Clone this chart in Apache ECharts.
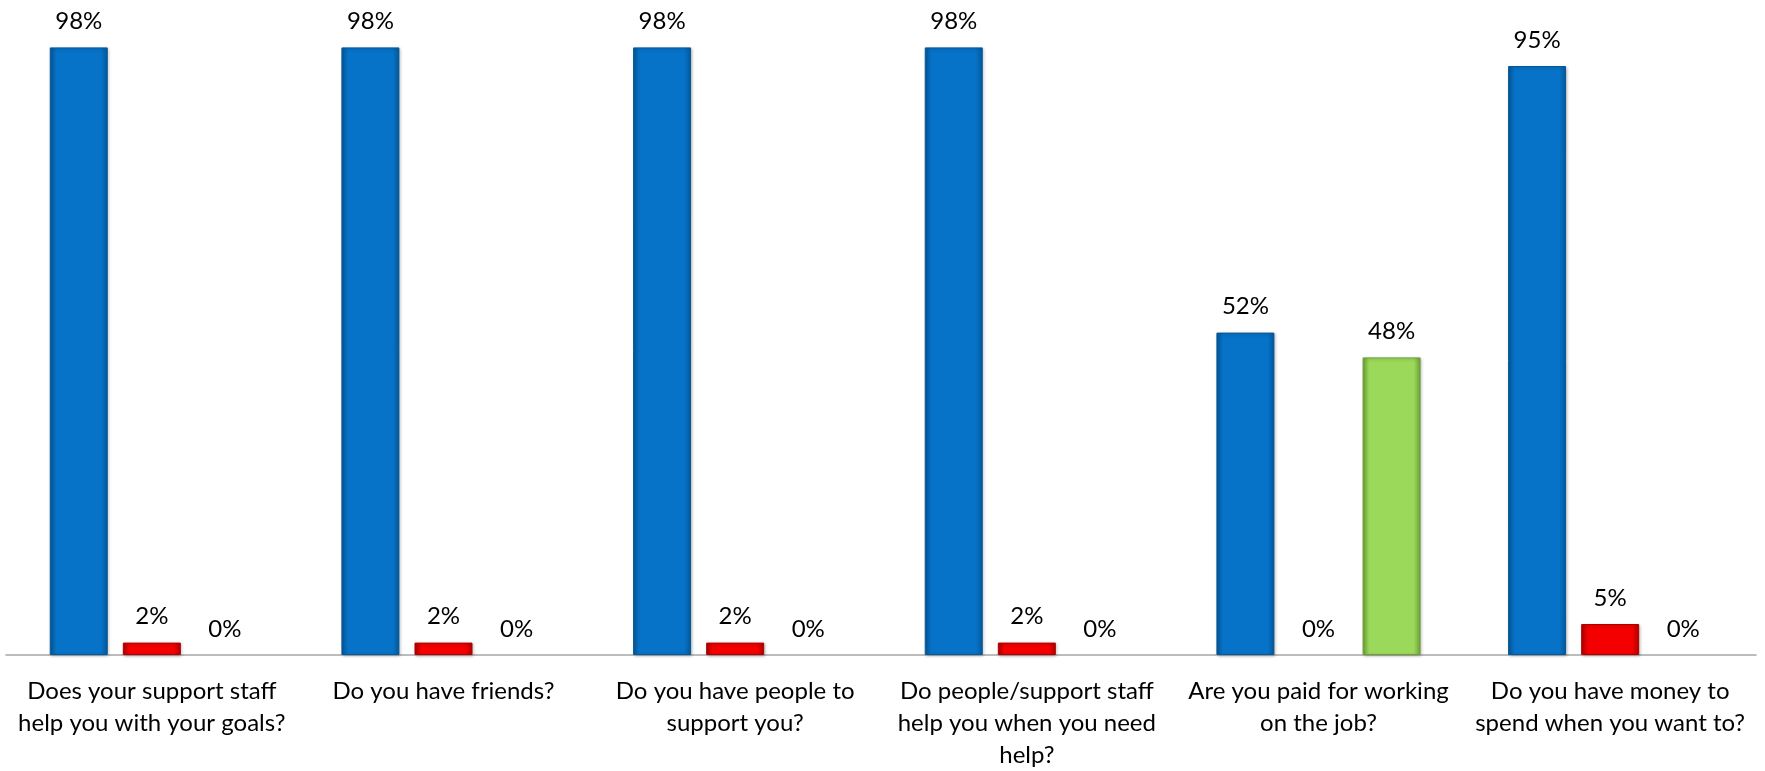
<!DOCTYPE html>
<html>
<head>
<meta charset="utf-8">
<script src="https://cdn.jsdelivr.net/npm/echarts@6/dist/echarts.min.js"></script>
<style>
html, body { margin: 0; padding: 0; background: #fff; }
#main { width: 1765px; height: 771px; }
</style>
</head>
<body>
<div id="main"></div>
<script>
// categories (questions)
var questions = [
	'Does your support staff\nhelp you with your goals?',
	'Do you have friends?',
	'Do you have people to\nsupport you?',
	'Do people/support staff\nhelp you when you need\nhelp?',
	'Are you paid for working\non the job?',
	'Do you have money to\nspend when you want to?'
];
// percentages per answer
var blueVals = [98, 98, 98, 98, 52, 95];
var redVals = [2, 2, 2, 2, 0, 5];
var greenVals = [0, 0, 0, 0, 48, 0];

var font = 'Lato, "Open Sans", sans-serif';

function bevel(mid, dark) {
	return new echarts.graphic.LinearGradient(0, 0, 1, 0, [
		{ offset: 0, color: dark },
		{ offset: 0.12, color: mid },
		{ offset: 0.88, color: mid },
		{ offset: 1, color: dark }
	]);
}

// zero values keep their label but draw no bar outline
function toItems(arr) {
	return arr.map(function (v) {
		if (v === 0) {
			return { value: v, itemStyle: { color: 'transparent', borderWidth: 0, shadowBlur: 0, shadowOffsetX: 0, shadowOffsetY: 0 } };
		}
		return v;
	});
}

function makeSeries(name, data, mid, dark) {
	return {
		name: name,
		type: 'bar',
		data: toItems(data),
		barGap: '26%',
		barCategoryGap: '30%',
		itemStyle: {
			color: bevel(mid, dark),
			borderColor: dark,
			borderWidth: 1,
			shadowColor: 'rgba(0,0,0,0.25)',
			shadowBlur: 3,
			shadowOffsetX: 1,
			shadowOffsetY: 1
		},
		label: {
			show: true,
			position: 'top',
			distance: 14,
			formatter: '{c}%',
			color: '#000',
			fontFamily: font,
			fontSize: 24
		}
	};
}

var myChart = echarts.init(document.getElementById('main'));
var option = {
	animation: false,
	backgroundColor: '#fff',
	grid: { left: 6, right: 9, top: 35, bottom: 114, containLabel: false },
	xAxis: {
		type: 'category',
		data: questions,
		axisLine: { lineStyle: { color: '#A6A6A6', width: 1.5 } },
		axisTick: { show: false },
		axisLabel: {
			interval: 0,
			color: '#000',
			fontFamily: font,
			fontSize: 24,
			lineHeight: 32,
			margin: 20
		}
	},
	yAxis: {
		type: 'value',
		min: 0,
		max: 100,
		show: false,
		splitLine: { show: false }
	},
	series: [
		makeSeries('Yes', blueVals, '#0673C8', '#05589A'),
		makeSeries('No', redVals, '#F40000', '#B00000'),
		makeSeries('Other', greenVals, '#9BD95A', '#6FA038')
	]
};
myChart.setOption(option);
</script>
</body>
</html>
